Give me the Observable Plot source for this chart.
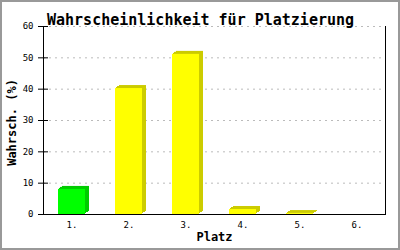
<!DOCTYPE html>
<html>
<head>
<meta charset="utf-8">
<script src="https://cdn.jsdelivr.net/npm/d3@7"></script>
<script src="https://cdn.jsdelivr.net/npm/@observablehq/plot@0.6"></script>
<style>
  body { margin: 0; background: white; }
  #wrap { position: relative; width: 400px; height: 250px; }
  #border { position: absolute; left: 0; top: 0; width: 400px; height: 250px; box-sizing: border-box; border: 2px solid #999; pointer-events: none; }
</style>
</head>
<body>
<div id="wrap"><div id="border"></div></div>
<script>
const title = "Wahrscheinlichkeit für Platzierung";
const xLabel = "Platz";
const yLabel = "Wahrsch. (%)";
const places = ["1.", "2.", "3.", "4.", "5.", "6."];
const values = [8.0, 40.2, 51.1, 1.6, 0.3, 0];
const yTicks = [0, 10, 20, 30, 40, 50, 60];

const data = places.map((p, i) => ({place: p, value: values[i], first: i === 0}));
const front = d => d.first ? "#00ff00" : "#ffff00";
const side = d => d.first ? "#00cc00" : "#cccc00";
const mono = "DejaVu Sans Mono, monospace";
const layers = [[4, -3], [3, -2], [2, -2], [1, -1]];

const plot = Plot.plot({
  width: 400,
  height: 250,
  marginLeft: 43,
  marginRight: 15,
  marginTop: 26,
  marginBottom: 36,
  style: {background: "transparent", fontFamily: mono, fontSize: "9px", color: "black"},
  x: {domain: places, paddingInner: 0.53, paddingOuter: 0.265, label: null},
  y: {domain: [0, 60], label: null},
  marks: [
    Plot.gridY(yTicks.filter(t => t > 0), {stroke: "#bbb", strokeOpacity: 1, strokeDasharray: "2,4"}),
    ...layers.map(([dx, dy]) => Plot.barY(data, {x: "place", y: "value", fill: side, dx, dy})),
    Plot.barY(data, {x: "place", y: "value", fill: front}),
    Plot.axisY({ticks: yTicks, tickSize: 10, dx: 5, text: null, stroke: "black", strokeWidth: 1}),
    Plot.axisY({ticks: yTicks, tickSize: 0, tickPadding: 10, fontSize: 9, fontFamily: mono}),
    Plot.axisX({tickSize: 0, tickPadding: 7, fontSize: 9, fontFamily: mono}),
    Plot.frame({anchor: "left", stroke: "black"}),
    Plot.frame({anchor: "right", stroke: "black"}),
    Plot.frame({anchor: "bottom", stroke: "black"}),
    Plot.text([title], {frameAnchor: "top", dy: -12, dx: -14, fontSize: 15, fontWeight: "bold", fontFamily: mono, fill: "black"}),
    Plot.text([xLabel], {frameAnchor: "bottom", dy: 26, fontSize: 12, fontWeight: "bold", fontFamily: mono, fill: "black"}),
    Plot.text([yLabel], {frameAnchor: "left", dx: -31, dy: 2, rotate: -90, textAnchor: "middle", fontSize: 12, fontWeight: "bold", fontFamily: mono, fill: "black"})
  ]
});
document.getElementById("wrap").prepend(plot);
</script>
</body>
</html>
